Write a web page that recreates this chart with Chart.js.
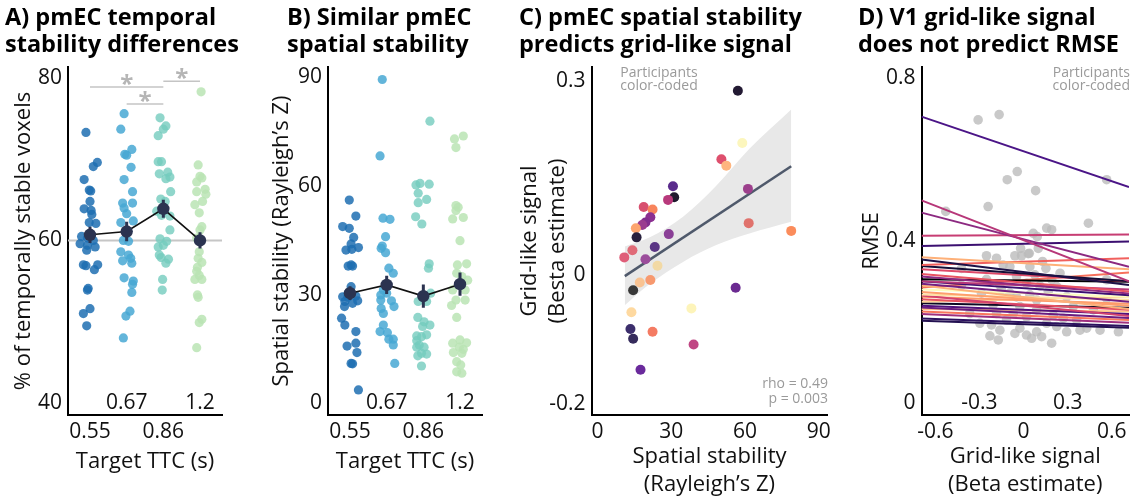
<!DOCTYPE html>
<html lang="en">
<head>
<meta charset="utf-8">
<title>pmEC stability and grid-like signal</title>
<script src="https://cdn.jsdelivr.net/npm/chart.js@4.4.1/dist/chart.umd.min.js"></script>
<style>
  html, body { margin: 0; padding: 0; background: #fff; overflow: hidden; }
  #fig { position: relative; width: 1134px; height: 496px; }
  #fig canvas { position: absolute; top: 0; }
</style>
</head>
<body>
<div id="fig">
  <canvas id="chartA" width="280" height="496" style="left:0px"></canvas>
  <canvas id="chartB" width="250" height="496" style="left:262px"></canvas>
  <canvas id="chartC" width="323" height="496" style="left:512px"></canvas>
  <canvas id="chartD" width="284" height="496" style="left:850px"></canvas>
</div>
<script>
"use strict";

/* ================================
   DATA
   ================================ */
const TTC_LABELS = ["0.55", "0.67", "0.86", "1.2"];

// A) % of temporally stable voxels (jit = horizontal jitter in category units)
const tempStab055 = [73.3,69.6,69.1,67.5,66.2,66.1,64.8,63.9,63.7,63.2,62.2,62.1,60.5,60.3,60.0,59.6,59.4,59.2,58.8,57.0,56.9,57.0,56.4,54.1,53.9,51.6,51.0,49.5];
const tempJit055  = [-0.11,0.2,0.09,-0.16,-0.02,0.02,0,-0.16,0.03,0.05,-0.02,0.16,-0.23,-0.07,0.09,-0.27,-0.07,0.14,-0.09,-0.18,-0.11,0.21,0.12,-0.05,-0.07,0,-0.18,-0.09];
const tempStab067 = [75.6,73.7,71.2,70.6,70.5,69.0,67.5,66.0,64.6,64.6,64.0,63.3,62.4,62.2,61.1,60.0,59.9,58.6,58.2,57.8,57.5,57.2,55.4,55.0,54.6,53.6,51.3,50.7,48.0];
const tempJit067  = [-0.07,-0.16,0.14,-0.05,0,0.12,-0.07,0.16,-0.11,0.16,-0.07,0,0.18,-0.16,0.03,-0.09,0.05,-0.16,0.05,0.11,-0.11,0.14,-0.07,0.18,0.16,0.14,0.09,-0.02,-0.09];
const tempStab086 = [75.1,73.7,74.1,72.9,69.7,69.7,68.2,68.4,67.8,67.6,66.0,65.1,64.8,63.6,63.1,63.0,61.3,60.2,59.9,59.4,59.2,58.2,57.9,57.7,57.2,55.2,53.9];
const tempJit086  = [-0.09,0,0.07,-0.14,-0.14,-0.05,-0.11,0.12,0.18,0.07,0.2,-0.07,0.05,-0.18,-0.05,0.18,0.18,-0.09,0.09,0,-0.14,-0.11,-0.06,0.14,0.07,-0.02,-0.03];
const tempStab120 = [78.3,69.3,67.9,67.7,67.2,66.3,65.7,66.0,64.8,64.4,63.4,61.7,61.3,60.3,58.6,57.8,57.3,56.7,56.2,55.7,55.2,55.2,53.3,53.0,50.3,49.9,46.8];
const tempJit120  = [0.03,-0.05,0,0.05,-0.09,0.14,0.16,-0.09,0.07,-0.14,-0.02,0.05,0,-0.09,-0.02,-0.05,0.05,-0.07,-0.09,-0.02,-0.14,0.05,-0.07,-0.05,0.05,-0.02,-0.09];
const tempMean = [60.7, 61.1, 63.9, 60.0];
const tempSem  = [1.0, 1.2, 1.1, 1.0];
const sigFrom   = [1, 2, 3];
const sigTo     = [3, 3, 4];
const sigHeight = [78.9, 76.8, 79.6];
const sigStarX  = [2, 2.5, 3.5];

// B) spatial stability (Rayleigh's Z)
const spatStab055 = [56.1,51.7,48.8,48.3,45.8,44.0,42.3,42.5,43.0,38.2,37.9,37.9,32.2,30.4,29.4,29.3,29.6,28.3,28.1,26.7,27.6,23.5,21.6,19.8,15.8,16.6,14.0,11.0,10.9,3.7];
const spatJit055  = [-0.02,0.16,-0.2,-0.02,0.1,0.03,-0.11,0.05,0.23,0.03,0.07,-0.05,0.03,-0.05,-0.2,-0.06,0.16,0.21,-0.14,-0.15,0.07,-0.23,-0.14,0.16,-0.08,0.16,0.19,0.03,0.07,0.23];
const spatStab067 = [89.4,68.3,51.1,50.8,46.0,43.4,42.8,41.6,37.3,35.9,31.3,30.4,29.9,28.3,28.5,26.2,24.8,26.7,21.6,19.8,19.5,17.7,17.7,16.1,11.0];
const spatJit067  = [-0.12,-0.18,-0.1,0.09,-0.03,-0.12,-0.15,-0.03,0.06,0.18,-0.09,0,-0.16,0.13,-0.16,-0.15,-0.09,0.2,-0.09,-0.18,0.02,0.06,0.18,0.18,0.22];
const spatStab086 = [77.9,60.3,60.7,60.5,58.0,55.4,56.3,51.5,49.5,38.5,37.3,30.4,28.1,28.1,23.7,22.5,21.6,21.2,18.6,18.4,18.9,17.3,16.1,15.5,15.5,13.8,13.6,13.1,10.3];
const spatJit086  = [0.18,-0.2,-0.09,0.16,-0.14,-0.14,0.09,-0.21,-0.04,0.16,0.14,0.2,-0.14,0.09,-0.15,0.02,0.18,-0.02,-0.18,-0.05,0.09,-0.18,-0.11,0.02,-0.18,-0.05,0.09,-0.15,-0.05];
const spatStab120 = [73.0,73.8,70.6,54.6,54.1,53.2,51.3,50.9,44.9,38.2,38.5,35.9,35.0,34.0,31.3,31.3,28.5,27.0,28.5,23.7,17.5,16.6,16.7,15.5,14.9,14.0,13.8,11.5,10.6,8.7,8.3];
const spatJit120  = [-0.15,0.09,-0.11,-0.11,-0.05,-0.11,0.09,-0.2,0,-0.07,0.18,-0.09,0.05,0.21,-0.2,0.14,-0.11,-0.23,0.14,-0.09,0,-0.2,0.18,-0.02,0.09,-0.18,0.05,-0.09,0.02,-0.09,0.05];
const spatMean = [30.4, 32.7, 29.6, 32.9];
const spatSem  = [1.9, 2.5, 3.2, 3.2];

// C) spatial stability vs grid-like signal, one point per participant
const stabZ = [57.1,58.9,50.4,52.4,30.7,31.2,28.7,61.2,18.8,22.4,21.5,19.5,18.2,15.6,15.9,29.0,61.5,78.8,23.3,14.2,10.9,19.5,24.4,17.2,21.5,14.5,56.2,13.8,38.2,13.4,14.5,22.4,39.1,17.5];
const gridBeta = [0.285,0.204,0.179,0.169,0.137,0.120,0.116,0.133,0.105,0.101,0.089,0.081,0.077,0.072,0.058,0.063,0.080,0.068,0.043,0.038,0.027,0.024,0.014,-0.012,-0.008,-0.024,-0.020,-0.058,-0.052,-0.084,-0.099,-0.088,-0.108,-0.147];
const fitX  = [11.1, 78.8];
const fitY  = [-0.002, 0.168];
const bandX  = [11.1, 21.3, 34.8, 48.3, 61.8, 78.8];
const bandHi = [0.044, 0.058, 0.090, 0.138, 0.195, 0.256];
const bandLo = [-0.047, -0.014, 0.020, 0.046, 0.064, 0.082];

// D) V1 grid-like signal vs RMSE
const v1Beta = [-0.309,-0.166,-0.043,-0.111,0.082,0.565,-0.241,-0.529,0.441,0.157,0.191,0.066,0.093,-0.020,0.039,
  -0.252,-0.184,-0.059,-0.014,0.032,0.100,0.129,0.152,-0.139,-0.422,-0.252,-0.048,0.077,0.191,-0.422,-0.161,0.020,0.111,0.225,-0.286,-0.093,0.043,0.168,0.293,0.565,0.565,-0.207,-0.025,0.089,0.338,-0.297,-0.218,-0.161,-0.229,-0.172,-0.059,-0.025,0.020,0.055,0.089,0.123,0.191,0.225,0.293,0.384,0.429,0.520,0.645,-0.116,0.157,-0.366,-0.093,0.043,0.248,-0.150,-0.048,0.089,0.202,0.270,0.361,0.020,-0.070,0.475,-0.184];
const rmse = [0.697,0.710,0.570,0.550,0.523,0.550,0.484,0.472,0.443,0.431,0.427,0.418,0.410,0.381,0.369,
  0.363,0.357,0.363,0.363,0.368,0.381,0.349,0.332,0.340,0.332,0.305,0.312,0.316,0.305,0.291,0.291,0.295,0.289,0.287,0.271,0.271,0.267,0.275,0.262,0.304,0.258,0.242,0.238,0.230,0.238,0.197,0.193,0.180,0.166,0.156,0.172,0.185,0.168,0.160,0.176,0.164,0.148,0.189,0.176,0.180,0.185,0.180,0.176,0.205,0.197,0.221,0.336,0.336,0.320,0.279,0.262,0.254,0.217,0.209,0.205,0.213,0.221,0.230,0.221];
// per-participant fits: RMSE at left / right edge of the axis
const fitLeft  = [0.705,0.499,0.469,0.412,0.387,0.359,0.354,0.340,0.338,0.330,0.318,0.312,0.305,0.300,0.300,0.294,0.290,0.285,0.280,0.274,0.268,0.265,0.262,0.256,0.250,0.246,0.240,0.236,0.232,0.226,0.220,0.209,0.203];
const fitRight = [0.532,0.300,0.336,0.415,0.398,0.330,0.291,0.357,0.300,0.300,0.275,0.270,0.299,0.280,0.266,0.250,0.232,0.322,0.262,0.240,0.255,0.215,0.245,0.230,0.262,0.235,0.220,0.210,0.226,0.205,0.198,0.190,0.186];

/* ================================
   STYLE
   ================================ */
const FONT = "'Open Sans', 'DejaVu Sans', sans-serif";
const INK = "#111";
const NOTE = "#9a9a9a";
const MEAN_COLOR = "#2b3350";
const TTC_COLORS = ["rgba(30,110,178,0.85)", "rgba(72,168,212,0.85)", "rgba(116,204,190,0.8)", "rgba(186,228,180,0.85)"];
const PART_COLORS = ["#231a33","#fcf6bd","#de4f6d","#feb57f","#5a2b8c","#1f1a2e","#b8397c","#9c3f8c","#d8506f","#f8845c",
  "#8b2f91","#822d8e","#9a3c8f","#fda56e","#28203d","#8a3f96","#e0726c","#fb8c5b","#5a3584","#e06b78",
  "#df5e79","#9b4d9b","#f2d9a4","#f9c392","#f7996f","#383838","#6b2a91","#fed9a0","#fdf4ba","#3c2e6c",
  "#352b5c","#f47b63","#c04683","#6a2a9c"];
const FIT_COLORS = ["#4b1587","#b73779","#8c2981","#c73d73","#3b0f70","#feb078","#1d1147","#f1605d","#140e36","#de4968",
  "#e85362","#8c2981","#000004","#b73779","#3b0f70","#721f81","#fcb07a","#f7705c","#fcfdbf","#fe9f6d",
  "#fde2a5","#d3436e","#fd9a6a","#e75263","#fed395","#0b0924","#51127c","#6a1c81","#fec488","#f8765c",
  "#9f2f7f","#2c115f","#231151"];

Chart.defaults.font.family = FONT;

/* ================================
   HELPERS
   ================================ */
function jittered(vals, jit, cat) {
  return vals.map((v, i) => ({ x: cat + jit[i], y: v }));
}

function errorBars(means, sems) {
  const out = [];
  means.forEach((m, i) => {
    out.push({ x: i + 1, y: m - sems[i] }, { x: i + 1, y: m + sems[i] }, { x: i + 1, y: null });
  });
  return out;
}

function linearAxis(o) {
  return {
    type: "linear", min: o.min, max: o.max,
    grid: { display: false, drawTicks: false },
    border: { display: true, color: "#000", width: 2 },
    ticks: { font: { size: 21 }, color: INK, padding: o.tickPad, autoSkip: false, maxRotation: 0, callback: o.fmt },
    afterBuildTicks: s => { s.ticks = o.ticks.map(v => ({ value: v })); },
    afterFit: o.fit,
    title: { display: true, text: o.title, color: INK, font: { size: 22, lineHeight: 1.27 }, padding: o.titlePad }
  };
}

// titles, staggered tick labels, notes and stars drawn on top of the chart
function overlay(cfg) {
  return {
    id: "overlay",
    afterDraw(chart) {
      const { ctx, chartArea, scales } = chart;
      ctx.save();
      ctx.textBaseline = "middle";
      ctx.textAlign = "left";
      ctx.fillStyle = "#000";
      ctx.font = "bold 23.5px " + FONT;
      cfg.title.forEach((line, i) => ctx.fillText(line, cfg.titleX, 18 + i * 27));

      ctx.font = "21px " + FONT;
      ctx.fillStyle = INK;
      ctx.textAlign = "center";
      (cfg.topTicks || []).forEach(v => {
        ctx.fillText(cfg.fmt(v), scales.x.getPixelForValue(v), chartArea.bottom - 12);
      });

      ctx.font = "14px " + FONT;
      ctx.fillStyle = NOTE;
      (cfg.notes || []).forEach(n => {
        ctx.textAlign = n.align;
        ctx.fillText(n.text, n.x, n.y);
      });

      if (cfg.stars) {
        ctx.font = "bold 24px " + FONT;
        ctx.fillStyle = "#b5b5b5";
        ctx.textAlign = "center";
        ctx.textBaseline = "alphabetic";
        cfg.stars.x.forEach((sx, i) => {
          ctx.fillText("*", scales.x.getPixelForValue(sx), scales.y.getPixelForValue(cfg.stars.y[i]) + 5);
        });
      }
      ctx.restore();
    }
  };
}

function baseOptions(padRight, xAxis, yAxis) {
  return {
    responsive: false,
    animation: false,
    events: [],
    layout: { padding: { left: 0, top: 67, right: padRight, bottom: 0 } },
    plugins: { legend: { display: false }, tooltip: { enabled: false } },
    scales: { x: xAxis, y: yAxis }
  };
}

const ttcFmt = v => TTC_LABELS[Math.round(v) - 1];
const numFmt = v => String(v);

/* ================================
   A / B — category panels
   ================================ */
function categoryDatasets(stabs, jits, means, sems) {
  const ds = [];
  stabs.forEach((vals, i) => {
    ds.push({ type: "scatter", data: jittered(vals, jits[i], i + 1), backgroundColor: TTC_COLORS[i],
      pointRadius: 4.6, borderWidth: 0, order: 5 });
  });
  ds.push({ type: "line", data: means.map((m, i) => ({ x: i + 1, y: m })), borderColor: "#111",
    borderWidth: 1.6, pointRadius: 0, order: 3 });
  ds.push({ type: "line", data: errorBars(means, sems), borderColor: MEAN_COLOR, borderWidth: 3,
    pointRadius: 0, spanGaps: false, order: 2 });
  ds.push({ type: "scatter", data: means.map((m, i) => ({ x: i + 1, y: m })), backgroundColor: MEAN_COLOR,
    pointRadius: 6.2, borderWidth: 0, order: 1 });
  return ds;
}

const TTC_MIN = 0.4, TTC_MAX = 4.6;

const dsA = categoryDatasets([tempStab055, tempStab067, tempStab086, tempStab120],
  [tempJit055, tempJit067, tempJit086, tempJit120], tempMean, tempSem);
dsA.push({ type: "line", data: [{ x: TTC_MIN, y: 60 }, { x: TTC_MAX, y: 60 }], borderColor: "#c6c6c6",
  borderWidth: 2, pointRadius: 0, order: 9 });
sigFrom.forEach((f, i) => {
  dsA.push({ type: "line", data: [{ x: f, y: sigHeight[i] }, { x: sigTo[i], y: sigHeight[i] }],
    borderColor: "#c4c4c4", borderWidth: 1.5, pointRadius: 0, order: 6 });
});

new Chart(document.getElementById("chartA"), {
  type: "scatter",
  data: { datasets: dsA },
  options: baseOptions(58,
    linearAxis({ min: TTC_MIN, max: TTC_MAX, ticks: [1, 3], fmt: ttcFmt, tickPad: 4,
      fit: s => { s.height = 81; }, title: "Target TTC (s)", titlePad: { top: 0, bottom: 20 } }),
    linearAxis({ min: 38.52, max: 81.35, ticks: [40, 60, 80], fmt: numFmt, tickPad: 6,
      fit: s => { s.width = 68; }, title: "% of temporally stable voxels", titlePad: { top: 10, bottom: 0 } })),
  plugins: [overlay({ title: ["A) pmEC temporal", "stability differences"], titleX: 5,
    topTicks: [2, 4], fmt: ttcFmt, stars: { x: sigStarX, y: sigHeight } })]
});

const dsB = categoryDatasets([spatStab055, spatStab067, spatStab086, spatStab120],
  [spatJit055, spatJit067, spatJit086, spatJit120], spatMean, spatSem);

new Chart(document.getElementById("chartB"), {
  type: "scatter",
  data: { datasets: dsB },
  options: baseOptions(30,
    linearAxis({ min: TTC_MIN, max: TTC_MAX, ticks: [1, 3], fmt: ttcFmt, tickPad: 4,
      fit: s => { s.height = 81; }, title: "Target TTC (s)", titlePad: { top: 0, bottom: 20 } }),
    linearAxis({ min: -3.23, max: 92.85, ticks: [0, 30, 60, 90], fmt: numFmt, tickPad: 6,
      fit: s => { s.width = 66; }, title: "Spatial stability (Rayleigh\u2019s Z)", titlePad: { top: 6, bottom: 0 } })),
  plugins: [overlay({ title: ["B) Similar pmEC", "spatial stability"], titleX: 25,
    topTicks: [2, 4], fmt: ttcFmt })]
});

/* ================================
   C — spatial stability vs grid-like signal
   ================================ */
new Chart(document.getElementById("chartC"), {
  type: "scatter",
  data: {
    datasets: [
      { type: "line", data: bandX.map((x, i) => ({ x, y: bandHi[i] })), borderWidth: 0, pointRadius: 0,
        backgroundColor: "#e8e8e8", fill: "+1", cubicInterpolationMode: "monotone", order: 6 },
      { type: "line", data: bandX.map((x, i) => ({ x, y: bandLo[i] })), borderWidth: 0, pointRadius: 0,
        fill: false, cubicInterpolationMode: "monotone", order: 6 },
      { type: "line", data: fitX.map((x, i) => ({ x, y: fitY[i] })), borderColor: "#4f596b",
        borderWidth: 2.5, pointRadius: 0, order: 3 },
      { type: "scatter", data: stabZ.map((x, i) => ({ x, y: gridBeta[i] })), backgroundColor: PART_COLORS,
        pointRadius: 5, borderWidth: 0, order: 1 }
    ]
  },
  options: baseOptions(7,
    linearAxis({ min: -2.4, max: 93.5, ticks: [0, 30, 60, 90], fmt: numFmt, tickPad: 4,
      fit: s => { s.height = 81; }, title: ["Spatial stability", "(Rayleigh\u2019s Z)"], titlePad: { top: 0, bottom: -3 } }),
    linearAxis({ min: -0.217, max: 0.3217, ticks: [-0.2, 0, 0.3], fmt: numFmt, tickPad: 6,
      fit: s => { s.width = 79.6; }, title: ["Grid-like signal", "(Besta estimate)"], titlePad: { top: 4, bottom: 0 } })),
  plugins: [overlay({ title: ["C) pmEC spatial stability", "predicts grid-like signal"], titleX: 7,
    notes: [
      { text: "Participants", x: 147, y: 73, align: "center" },
      { text: "color-coded", x: 147, y: 86, align: "center" },
      { text: "rho = 0.49", x: 316, y: 384, align: "right" },
      { text: "p = 0.003", x: 316, y: 399, align: "right" }
    ] })]
});

/* ================================
   D — V1 grid-like signal vs RMSE
   ================================ */
const D_MIN = -0.694, D_MAX = 0.717;
const dsD = [
  { type: "scatter", data: v1Beta.map((x, i) => ({ x, y: rmse[i] })), backgroundColor: "rgba(188,188,188,0.8)",
    pointRadius: 4.8, borderWidth: 0, order: 9 }
];
fitLeft.forEach((l, i) => {
  dsD.push({ type: "line", data: [{ x: D_MIN, y: l }, { x: D_MAX, y: fitRight[i] }], borderColor: FIT_COLORS[i],
    borderWidth: 2, pointRadius: 0, order: 1 });
});

new Chart(document.getElementById("chartD"), {
  type: "scatter",
  data: { datasets: dsD },
  options: baseOptions(5,
    linearAxis({ min: D_MIN, max: D_MAX, ticks: [-0.6, 0, 0.6], fmt: numFmt, tickPad: 4,
      fit: s => { s.height = 81; }, title: ["Grid-like signal", "(Beta estimate)"], titlePad: { top: 0, bottom: -3 } }),
    linearAxis({ min: -0.0285, max: 0.827, ticks: [0, 0.4, 0.8], fmt: numFmt, tickPad: 6,
      fit: s => { s.width = 71.5; }, title: "RMSE", titlePad: { top: 8, bottom: 0 } })),
  plugins: [overlay({ title: ["D) V1 grid-like signal", "does not predict RMSE"], titleX: 8,
    topTicks: [-0.3, 0.3], fmt: numFmt,
    notes: [
      { text: "Participants", x: 280, y: 73, align: "right" },
      { text: "color-coded", x: 280, y: 86, align: "right" }
    ] })]
});
</script>
</body>
</html>
